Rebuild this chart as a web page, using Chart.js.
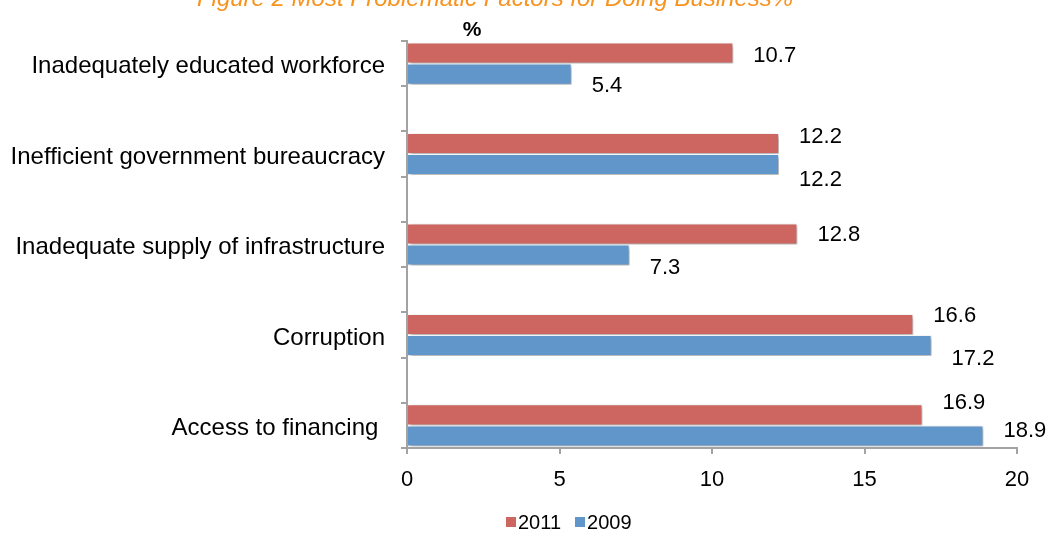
<!DOCTYPE html>
<html>
<head>
<meta charset="utf-8">
<script src="https://cdn.jsdelivr.net/npm/chart.js@4"></script>
<style>
  html, body { margin: 0; padding: 0; background: #fff; overflow: hidden; }
  #wrap { position: relative; width: 1050px; height: 546px; }
</style>
</head>
<body>
<div id="wrap"><canvas id="factors-chart" width="1050" height="546"></canvas></div>
<script>
// survey answers, top to bottom
const factors = [
  "Inadequately educated workforce",
  "Inefficient government bureaucracy",
  "Inadequate supply of infrastructure",
  "Corruption",
  "Access to financing "
];
const share2011 = [10.7, 12.2, 12.8, 16.6, 16.9];
const share2009 = [5.4, 12.2, 7.3, 17.2, 18.9];
const xTicks = [0, 5, 10, 15, 20];

// hand-placed label offsets (px, vertical) so the numbers don't collide
const nudge2011 = [3, -7, 1, -8, -12];
const nudge2009 = [12, 15, 13, 13, -5];

// every factor is followed by an empty row, like the original sheet
const spaced = arr => arr.flatMap((v, i) => (i < arr.length - 1 ? [v, null] : [v]));
const rowLabels = factors.flatMap((f, i) => (i < factors.length - 1 ? [f, ""] : [f]));

const FONT = "'Liberation Sans', Arial, sans-serif";
Chart.defaults.font.family = FONT;
Chart.defaults.color = "#000";

const axisGrey = "#a3a3a3";

const barShadow = {
  id: "barShadow",
  beforeDatasetsDraw(chart) {
    const ctx = chart.ctx;
    ctx.save();
    ctx.shadowColor = "rgba(0,0,0,0.35)";
    ctx.shadowBlur = 4;
    ctx.shadowOffsetX = 2;
    ctx.shadowOffsetY = 2;
  },
  afterDatasetsDraw(chart) {
    chart.ctx.restore();
  }
};

const valueLabels = {
  id: "valueLabels",
  afterDatasetsDraw(chart) {
    const ctx = chart.ctx;
    const nudges = [nudge2011, nudge2009];
    ctx.save();
    ctx.font = "22px " + FONT;
    ctx.fillStyle = "#000";
    ctx.textAlign = "left";
    ctx.textBaseline = "middle";
    chart.data.datasets.forEach((ds, di) => {
      const meta = chart.getDatasetMeta(di);
      let k = 0;
      meta.data.forEach((bar, i) => {
        const v = ds.data[i];
        if (v === null) return;
        ctx.fillText(v.toFixed(1), bar.x + 20, bar.y + nudges[di][k]);
        k++;
      });
    });
    ctx.restore();
  }
};

// small square + year, packed tight like the spreadsheet legend
const seriesKey = {
  id: "seriesKey",
  afterDraw(chart) {
    const ctx = chart.ctx;
    const y = 522;
    let x = 506;
    ctx.save();
    ctx.font = "20px " + FONT;
    ctx.textAlign = "left";
    ctx.textBaseline = "middle";
    chart.data.datasets.forEach(ds => {
      ctx.fillStyle = ds.backgroundColor;
      ctx.fillRect(x, y - 5, 10, 10);
      ctx.fillStyle = "#000";
      ctx.fillText(ds.label, x + 12, y + 1);
      x += 12 + ctx.measureText(ds.label).width + 14;
    });
    ctx.restore();
  }
};

const headings = {
  id: "headings",
  afterDraw(chart) {
    const ctx = chart.ctx;
    ctx.save();
    ctx.textAlign = "center";
    ctx.textBaseline = "middle";
    ctx.fillStyle = "#f7931e";
    ctx.font = "italic 24px " + FONT;
    ctx.fillText("Figure 2 Most Problematic Factors for Doing Business%", 495, -1);
    ctx.fillStyle = "#000";
    ctx.font = "bold 21px " + FONT;
    ctx.fillText("%", 472, 30);
    ctx.restore();
  }
};

new Chart("factors-chart", {
  type: "bar",
  data: {
    labels: rowLabels,
    datasets: [
      {
        label: "2011",
        data: spaced(share2011),
        backgroundColor: "#cd6661",
        borderColor: "#ffffff",
        borderWidth: 1,
        categoryPercentage: 0.93,
        barPercentage: 1
      },
      {
        label: "2009",
        data: spaced(share2009),
        backgroundColor: "#6196ca",
        borderColor: "#ffffff",
        borderWidth: 1,
        categoryPercentage: 0.93,
        barPercentage: 1
      }
    ]
  },
  options: {
    indexAxis: "y",
    responsive: false,
    animation: false,
    layout: { padding: { top: 41, right: 33, bottom: 44, left: 0 } },
    scales: {
      y: {
        afterFit: scale => { scale.width = 407; },
        border: { color: axisGrey, width: 2 },
        grid: { drawOnChartArea: false, color: axisGrey, lineWidth: 2, tickLength: 6 },
        ticks: { autoSkip: false, padding: 16, labelOffset: 3, font: { size: 24 } }
      },
      x: {
        min: 0,
        max: 20,
        afterFit: scale => { scale.height = 54; },
        afterBuildTicks: scale => { scale.ticks = xTicks.map(value => ({ value })); },
        border: { color: axisGrey, width: 2 },
        grid: { drawOnChartArea: false, color: axisGrey, lineWidth: 2, tickLength: 6 },
        ticks: { padding: 13, font: { size: 22 } }
      }
    },
    plugins: {
      legend: { display: false },
      tooltip: { enabled: false }
    }
  },
  plugins: [barShadow, valueLabels, seriesKey, headings]
});
</script>
</body>
</html>
